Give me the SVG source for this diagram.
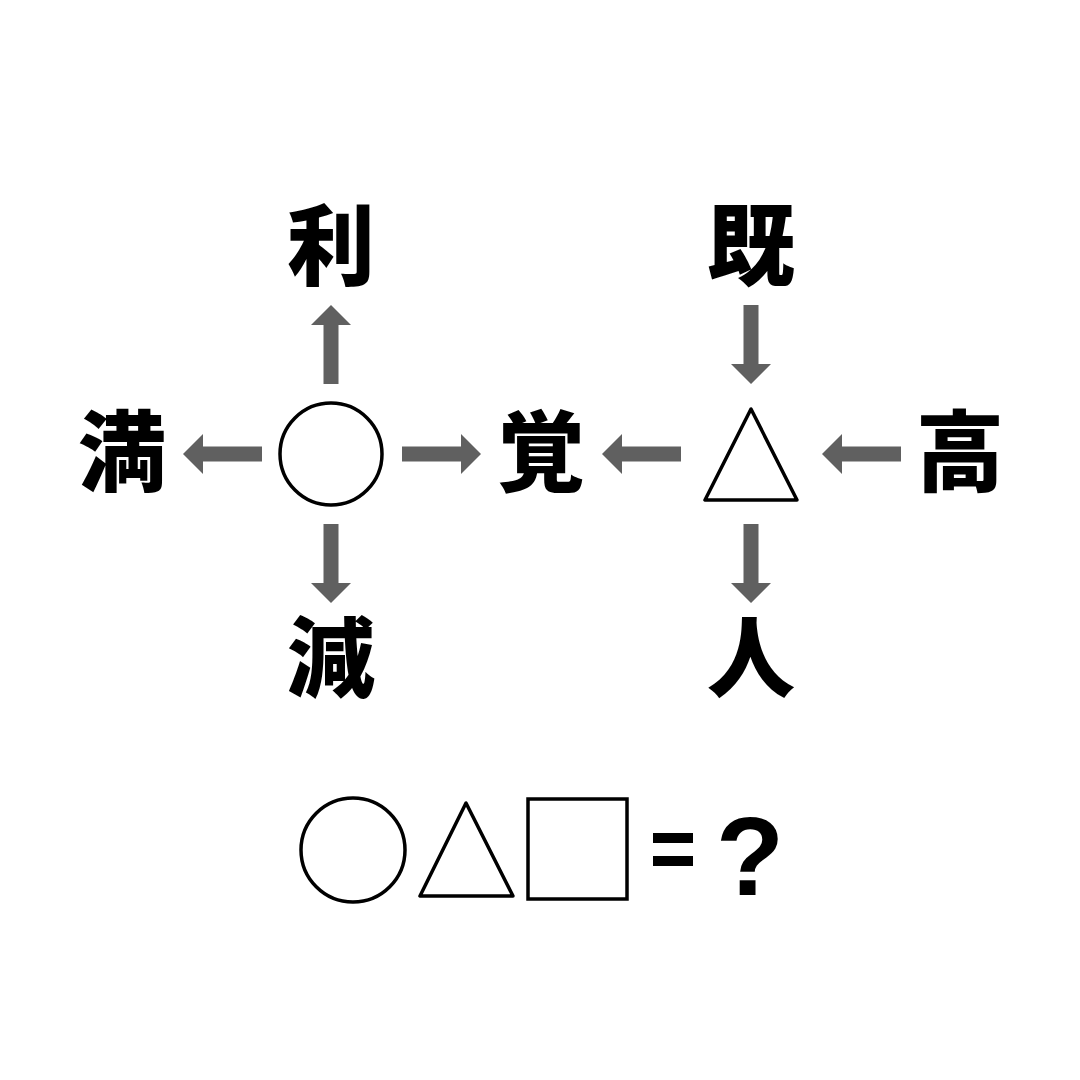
<svg xmlns="http://www.w3.org/2000/svg" width="1080" height="1080" viewBox="0 0 1080 1080">
<style>
.k{font-family:"Noto Sans CJK JP","Noto Sans CJK SC",sans-serif;font-weight:900;font-size:88px;text-anchor:middle;fill:#000}
.s{fill:#fff;stroke:#000;stroke-width:3.5}
.a{fill:#606060}
</style>
<defs><path id="ar" class="a" d="M0,-7.5H59V-20L79,0L59,20V7.5H0Z"/></defs>
<rect width="1080" height="1080" fill="#fff"/>
<g id="circle"><circle class="s" cx="331" cy="454" r="51"/></g>
<g id="triangle"><polygon class="s" points="705,500 797,500 751,409" stroke-linejoin="round"/></g>
<g id="n1"><text class="k" x="331" y="278">利</text></g>
<g id="n2"><text class="k" x="122" y="484">満</text></g>
<g id="n3"><text class="k" x="331" y="690">減</text></g>
<g id="n4"><text class="k" x="541" y="484">覚</text></g>
<g id="n5"><text class="k" x="751" y="278">既</text></g>
<g id="n6"><text class="k" x="960" y="484">高</text></g>
<g id="n7"><text class="k" x="751" y="690">人</text></g>
<g id="connectors">
<use href="#ar" transform="translate(331,384) rotate(-90)"/>
<use href="#ar" transform="translate(262,454) rotate(180)"/>
<use href="#ar" transform="translate(402,454)"/>
<use href="#ar" transform="translate(331,524) rotate(90)"/>
<use href="#ar" transform="translate(751,305) rotate(90)"/>
<use href="#ar" transform="translate(681,454) rotate(180)"/>
<use href="#ar" transform="translate(901,454) rotate(180)"/>
<use href="#ar" transform="translate(751,524) rotate(90)"/>
</g>
<g id="equation">
<circle class="s" cx="353" cy="850" r="52"/>
<polygon class="s" points="420,896 513,896 466,803" stroke-linejoin="round"/>
<rect class="s" x="528" y="799" width="99" height="100"/>
<rect x="653" y="833" width="40" height="10" fill="#000"/>
<rect x="653" y="856" width="40" height="10" fill="#000"/>
<text x="750" y="895" font-family="Liberation Sans,sans-serif" font-weight="bold" font-size="112" text-anchor="middle">?</text>
</g>
</svg>
